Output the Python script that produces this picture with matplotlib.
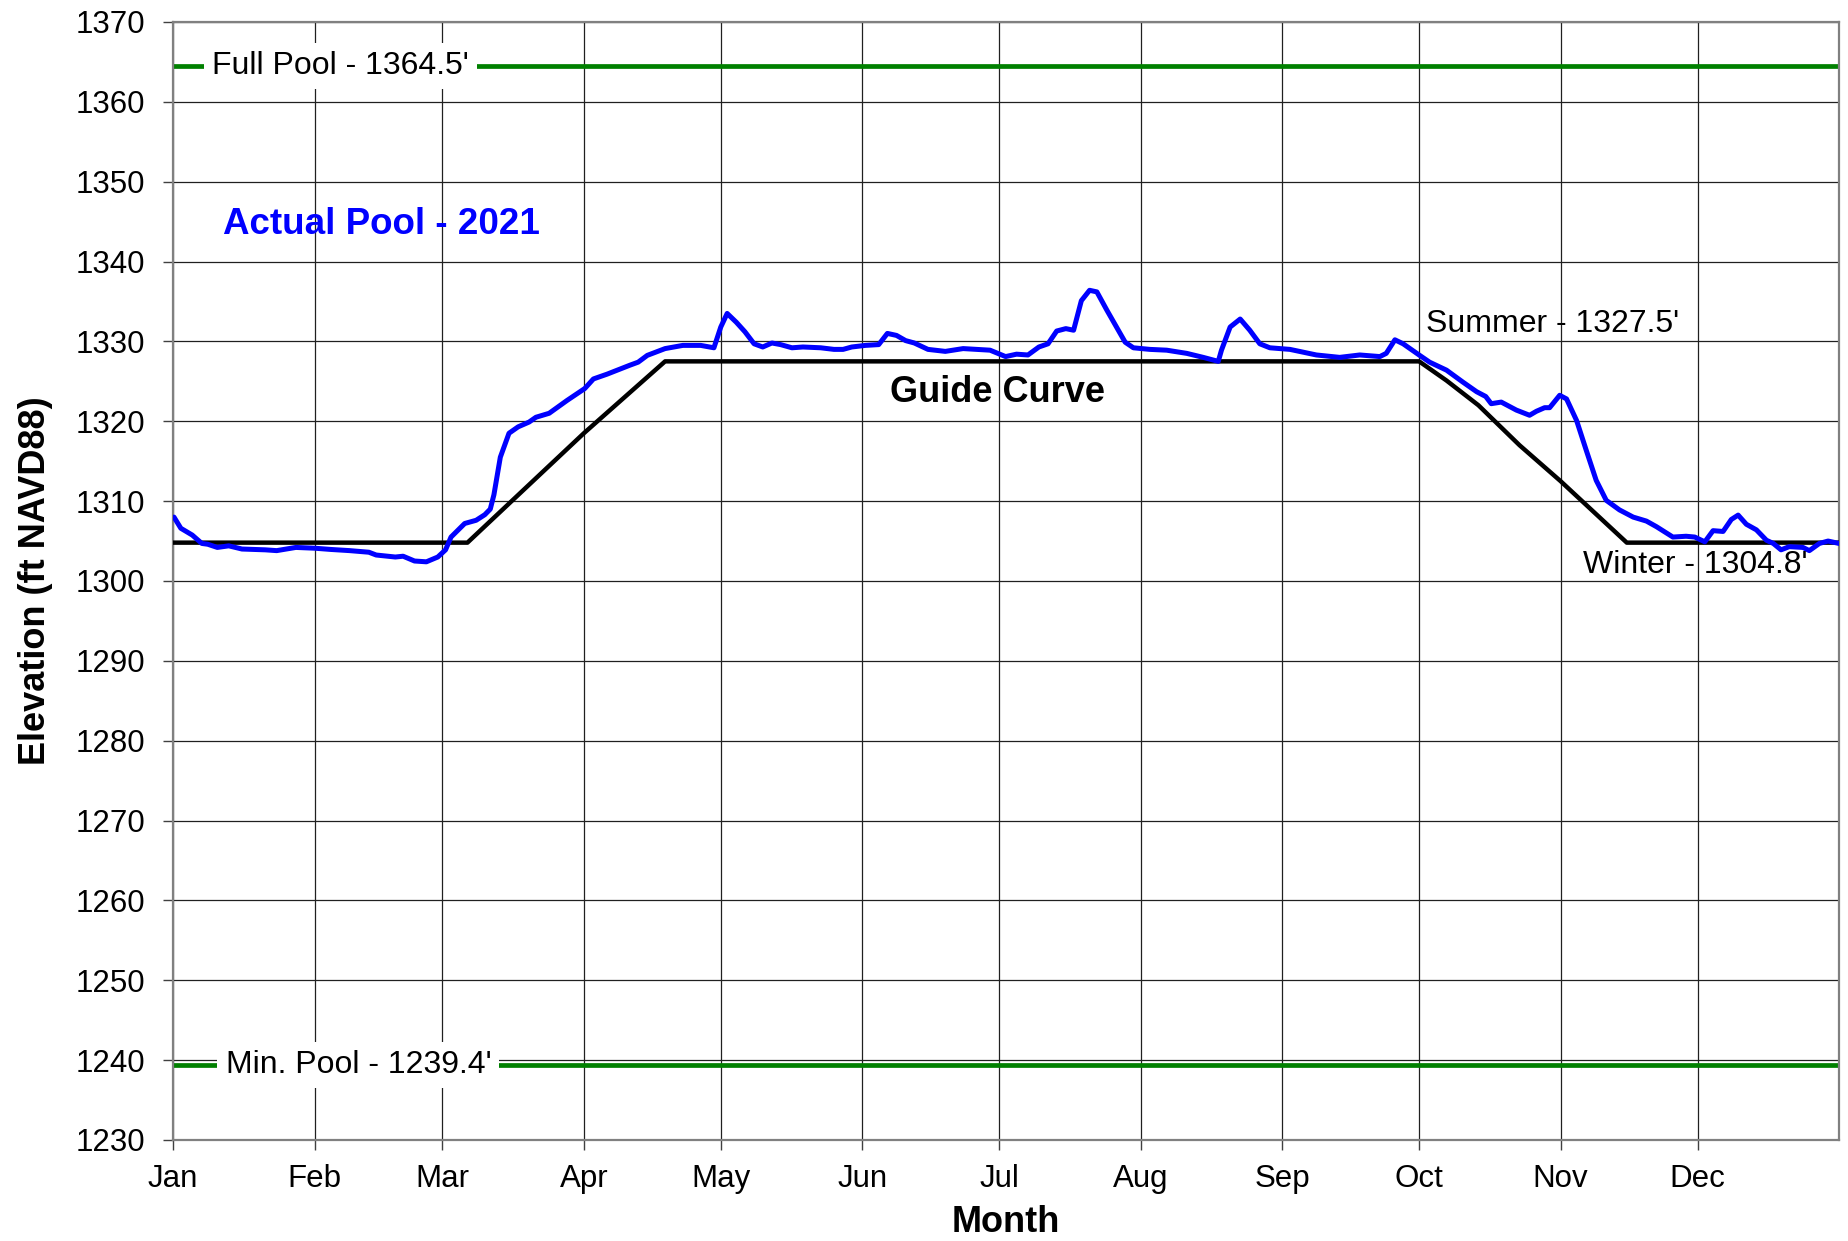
import matplotlib
matplotlib.use("Agg")
import matplotlib.pyplot as plt

plt.rcParams['font.family'] = ['Liberation Sans', 'DejaVu Sans']

# month ticks (day of year)
month_days = [0, 31, 59, 90, 120, 151, 181, 212, 243, 273, 304, 334]
month_labels = ['Jan', 'Feb', 'Mar', 'Apr', 'May', 'Jun',
                'Jul', 'Aug', 'Sep', 'Oct', 'Nov', 'Dec']

# actual pool 2021
actual_day = [0.2, 1.7, 4.2, 6.3, 7.6, 9.7, 12.2, 15.1, 20.2, 22.7, 26.9, 31.1,
              34.5, 38.7, 42.9, 44.5, 48.7, 50.4, 52.9, 55.5, 58, 59.7, 60.9,
              63.9, 66.4, 68.3, 69.5, 70.3, 71.7, 73.6, 75.6, 78, 79.5, 82.4,
              86.3, 90.2, 92.1, 95.1, 100, 101.9, 103.9, 107.8, 111.7, 115.6,
              118.5, 120, 121.4, 123.4, 125.3, 127.3, 129.2, 131.2, 133.1,
              135.6, 138, 141.9, 144.8, 146.8, 148.7, 151.7, 154.6, 156.5,
              158.5, 160.5, 162.4, 165.4, 169.2, 173.1, 179, 182.4, 184.8,
              187.3, 189.7, 191.7, 193.6, 195.6, 197.3, 199, 200.8, 202.4,
              204.6, 206.7, 208.6, 210.4, 214, 217.7, 222.1, 225.7, 229,
              229.7, 231.6, 233.8, 235.9, 238.1, 240.3, 244.7, 250.5, 255.6,
              260, 264.4, 265.8, 267.7, 269.5, 273, 275.3, 279, 282.6, 285.6,
              287.6, 288.8, 291, 294.3, 297.2, 298.7, 300.5, 301.6, 303.8,
              305.3, 307.5, 309.6, 311.8, 314, 316.9, 319.9, 322.8, 325,
              328.6, 331.5, 333.4, 335.6, 337.4, 339.6, 341.4, 342.9, 344.7,
              346.9, 349.1, 350.6, 352.3, 354.1, 357.1, 358.5, 360.7, 362.6,
              365]
actual_elev = [1308.0, 1306.6, 1305.75, 1304.7, 1304.6, 1304.2, 1304.4, 1304.0,
               1303.9, 1303.8, 1304.2, 1304.1, 1303.95, 1303.8, 1303.6, 1303.25,
               1303.0, 1303.1, 1302.5, 1302.4, 1303.0, 1303.9, 1305.5, 1307.2,
               1307.6, 1308.3, 1309.0, 1310.8, 1315.5, 1318.5, 1319.3, 1319.9,
               1320.5, 1321.0, 1322.6, 1324.1, 1325.3, 1325.9, 1327.0, 1327.4,
               1328.25, 1329.1, 1329.5, 1329.5, 1329.2, 1331.8, 1333.5, 1332.4,
               1331.2, 1329.7, 1329.3, 1329.8, 1329.6, 1329.2, 1329.3, 1329.2,
               1329.0, 1329.0, 1329.3, 1329.5, 1329.6, 1331.0, 1330.75, 1330.1,
               1329.8, 1329.0, 1328.75, 1329.1, 1328.9, 1328.1, 1328.4, 1328.3,
               1329.3, 1329.7, 1331.3, 1331.6, 1331.4, 1335.1, 1336.4, 1336.2,
               1333.9, 1331.8, 1329.9, 1329.2, 1329.0, 1328.9, 1328.5, 1328.0,
               1327.5, 1328.9, 1331.8, 1332.8, 1331.4, 1329.7, 1329.2, 1329.0,
               1328.3, 1328.0, 1328.3, 1328.1, 1328.5, 1330.2, 1329.7, 1328.3,
               1327.4, 1326.4, 1324.9, 1323.7, 1323.1, 1322.2, 1322.4, 1321.4,
               1320.75, 1321.25, 1321.7, 1321.7, 1323.25, 1322.8, 1320.1, 1316.4,
               1312.6, 1310.1, 1308.9, 1308.0, 1307.5, 1306.8, 1305.5, 1305.6,
               1305.5, 1304.9, 1306.3, 1306.2, 1307.7, 1308.25, 1307.1, 1306.4,
               1305.1, 1304.7, 1303.9, 1304.3, 1304.2, 1303.8, 1304.7, 1305.0,
               1304.7]

# guide curve
guide_day = [0, 64.5, 90, 107.8, 273, 279, 286, 295, 304, 318.5, 365]
guide_elev = [1304.8, 1304.8, 1318.5, 1327.5, 1327.5, 1325.1, 1322.0,
              1317.0, 1312.5, 1304.8, 1304.8]

full_pool = 1364.5
min_pool = 1239.4

fig = plt.figure(figsize=(18.49, 12.41), dpi=100)
ax = fig.add_axes([0.0936, 0.0814, 0.9010, 0.9009])

ax.set_axisbelow(True)
ax.grid(True, color='#202020', linewidth=0.9)

ax.axhline(full_pool, color='#008000', linewidth=3.4, zorder=2)
ax.axhline(min_pool, color='#008000', linewidth=3.4, zorder=2)
ax.plot(guide_day, guide_elev, color='black', linewidth=3.2,
        solid_joinstyle='round', zorder=3)
ax.plot(actual_day, actual_elev, color='#0000ff', linewidth=3.6,
        solid_joinstyle='round', solid_capstyle='round', zorder=4)

box = dict(facecolor='white', edgecolor='none', pad=6)
ax.text(8.5, full_pool, "Full Pool - 1364.5'", fontsize=23, va='center',
        ha='left', bbox=box, zorder=5)
ax.text(11.5, min_pool, "Min. Pool - 1239.4'", fontsize=23, va='center',
        ha='left', bbox=box, zorder=5)
ax.text(11.0, 1344.7, "Actual Pool - 2021", fontsize=26.5, fontweight='bold',
        color='#0000ff', va='center', ha='left', zorder=5)
ax.text(180.6, 1323.6, "Guide Curve", fontsize=26, fontweight='bold',
        va='center', ha='center', zorder=5)
ax.text(274.6, 1332.2, "Summer - 1327.5'", fontsize=23, va='center',
        ha='left', zorder=5)
ax.text(358, 1302.05, "Winter - 1304.8'", fontsize=23, va='center',
        ha='right', zorder=5)

ax.set_xlim(0, 365)
ax.set_ylim(1230, 1370)
ax.set_xticks(month_days)
ax.set_xticklabels(month_labels)
ax.set_yticks(range(1230, 1371, 10))
ax.tick_params(axis='both', labelsize=22.5, length=7, width=1.0,
               color='#404040')
ax.tick_params(axis='y', pad=13)
ax.tick_params(axis='x', pad=10)

for s in ax.spines.values():
    s.set_color('#808080')
    s.set_linewidth(1.6)

ax.set_xlabel('Month', fontsize=26, fontweight='bold', labelpad=8)
ax.set_ylabel('Elevation (ft NAVD88)', fontsize=26, fontweight='bold', labelpad=16)

fig.savefig('out.png', dpi=100)
